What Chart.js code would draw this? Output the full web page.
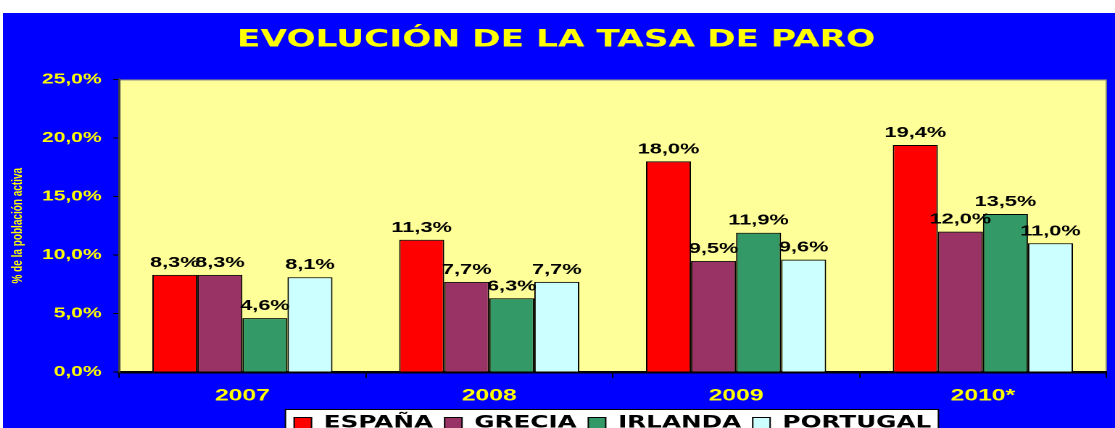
<!DOCTYPE html>
<html>
<head>
<meta charset="utf-8">
<script src="https://cdn.jsdelivr.net/npm/chart.js@4.4.1/dist/chart.umd.min.js"></script>
<style>
  html, body { margin: 0; padding: 0; background: #ffffff; overflow: hidden; }
  #c { position: absolute; left: 3px; top: 13px; }
</style>
</head>
<body>
<canvas id="c" width="767" height="415" style="width:1112px;height:415px;"></canvas>
<script>
// ---- data ----
const categories = ['2007', '2008', '2009', '2010*'];
const seriesNames = ['ESPAÑA', 'GRECIA', 'IRLANDA', 'PORTUGAL'];
const espana   = [8.3, 11.3, 18.0, 19.4];
const grecia   = [8.3, 7.7, 9.5, 12.0];
const irlanda  = [4.6, 6.3, 11.9, 13.5];
const portugal = [8.1, 7.7, 9.6, 11.0];
const yTicks = [0, 5, 10, 15, 20, 25];
const titleText = 'EVOLUCIÓN DE LA TASA DE PARO';
const yAxisTitle = '% de la población activa';

// ---- styles ----
const colors = ['#FF0000', '#993366', '#339966', '#CCFFFF'];
const seriesValues = [espana, grecia, irlanda, portugal];
const fmt = v => v.toFixed(1).replace('.', ',') + '%';
const SANS = '"Liberation Sans", Arial, sans-serif';
const WIDE = '"DejaVu Sans", Verdana, sans-serif';

const bgPlugin = {
  id: 'bg',
  beforeDraw(chart) {
    const { ctx, chartArea: a, width, height } = chart;
    ctx.save();
    ctx.fillStyle = '#0000FF';
    ctx.fillRect(0, 0, width, height);
    ctx.fillStyle = '#FFFF99';
    ctx.fillRect(a.left, a.top, a.right - a.left, a.bottom - a.top);
    ctx.strokeStyle = '#808080';
    ctx.lineWidth = 1;
    ctx.strokeRect(a.left, a.top + 0.5, a.right - a.left, a.bottom - a.top);
    // legend white box
    const hb = chart.legend && chart.legend.legendHitBoxes;
    if (hb && hb.length) {
      const l = hb[0].left - 6;
      const last = hb[hb.length - 1];
      const r = last.left + last.width + 5;
      const t = hb[0].top - 5;
      ctx.fillStyle = '#FFFFFF';
      ctx.fillRect(l, t, r - l, height - t + 5);
      ctx.strokeStyle = '#000000';
      ctx.lineWidth = 1;
      ctx.strokeRect(l, t, r - l, height - t + 5);
    }
    ctx.restore();
  }
};

const labelPlugin = {
  id: 'valueLabels',
  afterDatasetsDraw(chart) {
    const ctx = chart.ctx;
    ctx.save();
    ctx.font = 'bold 15px ' + SANS;
    ctx.fillStyle = '#000000';
    ctx.textAlign = 'center';
    ctx.textBaseline = 'alphabetic';
    chart.data.datasets.forEach((ds, i) => {
      const meta = chart.getDatasetMeta(i);
      meta.data.forEach((bar, j) => {
        ctx.fillText(fmt(ds.data[j]), bar.x, bar.y - 8);
      });
    });
    ctx.restore();
  }
};

new Chart(document.getElementById('c'), {
  type: 'bar',
  data: {
    labels: categories,
    datasets: seriesNames.map((name, i) => ({
      label: name,
      data: seriesValues[i],
      backgroundColor: colors[i],
      borderColor: '#000000',
      borderWidth: 1,
      barPercentage: 1.0,
      categoryPercentage: 0.73
    }))
  },
  options: {
    responsive: false,
    animation: false,
    devicePixelRatio: 2,
    layout: { padding: { left: 2, right: 6, top: 0, bottom: -13.5 } },
    plugins: {
      tooltip: { enabled: false },
      title: {
        display: true,
        text: titleText,
        color: '#FFFF00',
        font: { family: WIDE, size: 23.7, weight: 'bold' },
        padding: { top: 13, bottom: 25 }
      },
      legend: {
        display: true,
        position: 'bottom',
        fullSize: false,
        align: 'center',
        labels: {
          color: '#000000',
          font: { family: WIDE, size: 17, weight: 'bold' },
          boxWidth: 12,
          boxHeight: 11,
          padding: 8
        }
      }
    },
    scales: {
      x: {
        offset: true,
        afterFit(scale) { scale.height = 34.5; },
        grid: { display: true, offset: true, drawOnChartArea: false, drawTicks: true, tickLength: 6, tickColor: '#000000', tickWidth: 1 },
        border: { display: true, color: '#000000', width: 2.5 },
        ticks: { color: '#FFFF00', font: { family: SANS, size: 17, weight: 'bold' }, padding: 7.5, maxRotation: 0, autoSkip: false }
      },
      y: {
        min: 0,
        max: 25,
        afterFit(scale) { scale.width = 78; },
        afterBuildTicks(scale) { scale.ticks = yTicks.map(v => ({ value: v })); },
        grid: { display: true, drawOnChartArea: false, drawTicks: true, tickLength: 4, tickColor: '#000000', tickWidth: 1 },
        border: { display: true, color: '#404040', width: 1.5 },
        ticks: { color: '#FFFF00', font: { family: SANS, size: 14.5, weight: 'bold' }, padding: 8, callback: v => fmt(v) },
        title: {
          display: true,
          text: yAxisTitle,
          color: '#FFFF00',
          font: { family: SANS, size: 10, weight: 'bold' },
          padding: { top: 2, bottom: 0 }
        }
      }
    }
  },
  plugins: [bgPlugin, labelPlugin]
});
</script>
</body>
</html>
